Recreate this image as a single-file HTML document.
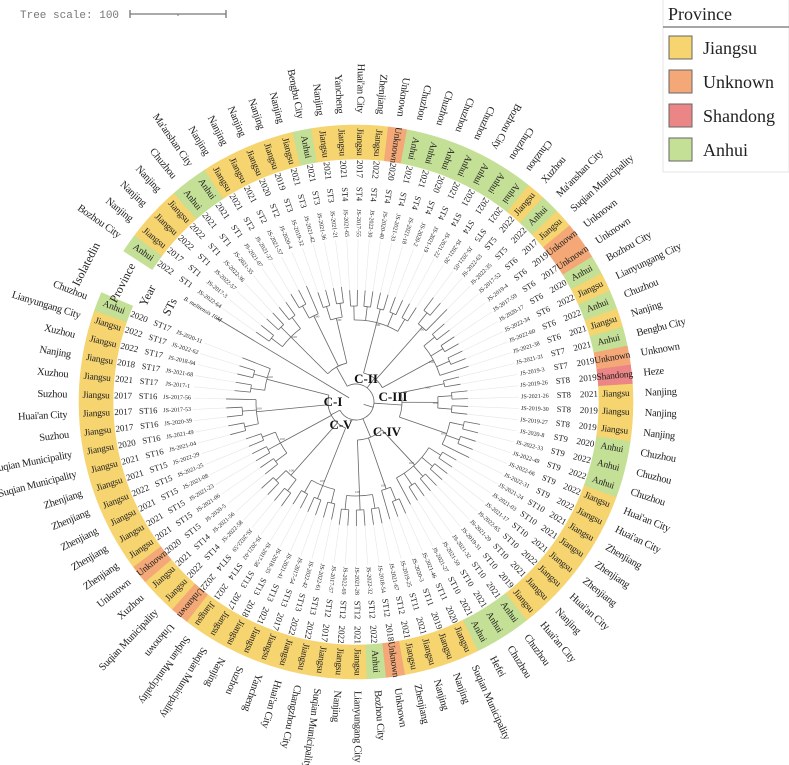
<!DOCTYPE html>
<html><head><meta charset="utf-8"><style>
html,body{margin:0;padding:0;background:#fff;}
svg{display:block;}
text{font-family:"Liberation Serif",serif;}
</style></head><body>
<svg id="chart" width="789" height="765" viewBox="0 0 789 765" xmlns="http://www.w3.org/2000/svg">
<g>
<text x="20" y="18" font-size="11" fill="#777" style="font-family:'Liberation Mono',monospace">Tree scale: 100</text>
<line x1="130" y1="14" x2="226" y2="14" stroke="#777" stroke-width="1.3"/>
<line x1="130" y1="10" x2="130" y2="18" stroke="#777" stroke-width="1.3"/>
<line x1="226" y1="10" x2="226" y2="18" stroke="#777" stroke-width="1.3"/>
<line x1="178" y1="14" x2="178" y2="16" stroke="#777" stroke-width="1"/>
</g>
<g>
<rect x="663" y="-1" width="126" height="173" fill="#fff" stroke="#e4e4e4"/>
<text x="668" y="20" font-size="18" fill="#222">Province</text>
<line x1="663" y1="27" x2="789" y2="27" stroke="#888" stroke-width="1.5"/>
<rect x="669" y="36" width="23" height="23" fill="#f6d470" stroke="#666"/>
<text x="703" y="54" font-size="18" fill="#222">Jiangsu</text>
<rect x="669" y="70" width="23" height="23" fill="#f4a877" stroke="#666"/>
<text x="703" y="88" font-size="18" fill="#222">Unknown</text>
<rect x="669" y="104" width="23" height="23" fill="#ec8585" stroke="#666"/>
<text x="703" y="122" font-size="18" fill="#222">Shandong</text>
<rect x="669" y="138" width="23" height="23" fill="#c4e096" stroke="#666"/>
<text x="703" y="156" font-size="18" fill="#222">Anhui</text>
</g>
<g id="tree"></g>
<g id="ring"></g>
<g id="labels"></g>
<g font-weight="bold" font-size="13" fill="#111">
<text x="333" y="406" text-anchor="middle">C-I</text>
<text x="366" y="383" text-anchor="middle">C-II</text>
<text x="393" y="401" text-anchor="middle">C-III</text>
<text x="387" y="436" text-anchor="middle">C-IV</text>
<text x="341" y="429" text-anchor="middle">C-V</text>
</g>
</svg>
<script>
const provinces=["Anhui","Jiangsu","Jiangsu","Jiangsu","Anhui","Anhui","Jiangsu","Jiangsu","Jiangsu","Jiangsu","Jiangsu","Anhui","Jiangsu","Jiangsu","Jiangsu","Jiangsu","Unknown","Anhui","Anhui","Anhui","Anhui","Anhui","Anhui","Anhui","Jiangsu","Anhui","Jiangsu","Unknown","Unknown","Anhui","Jiangsu","Anhui","Jiangsu","Anhui","Unknown","Shandong","Jiangsu","Jiangsu","Jiangsu","Anhui","Anhui","Anhui","Jiangsu","Jiangsu","Jiangsu","Jiangsu","Jiangsu","Jiangsu","Jiangsu","Jiangsu","Anhui","Anhui","Anhui","Jiangsu","Jiangsu","Jiangsu","Jiangsu","Unknown","Anhui","Jiangsu","Jiangsu","Jiangsu","Jiangsu","Jiangsu","Jiangsu","Jiangsu","Jiangsu","Jiangsu","Jiangsu","Unknown","Jiangsu","Jiangsu","Unknown","Jiangsu","Jiangsu","Jiangsu","Jiangsu","Jiangsu","Jiangsu","Jiangsu","Jiangsu","Jiangsu","Jiangsu","Jiangsu","Jiangsu","Jiangsu","Jiangsu","Anhui"];
const years=[2022,2017,2022,2022,2021,2021,2021,2021,2020,2019,2021,2021,2021,2021,2017,2022,2020,2021,2021,2020,2021,2021,2021,2021,2022,2022,2017,2019,2017,2020,2022,2022,2021,2021,2019,2019,2021,2019,2019,2020,2022,2022,2022,2022,2021,2021,2021,2022,2021,2019,2021,2021,2021,2020,2019,2021,2021,2018,2022,2021,2022,2017,2022,2022,2017,2021,2018,2017,2021,2022,2022,2021,2020,2021,2021,2021,2022,2021,2021,2020,2017,2017,2017,2021,2018,2022,2022,2020];
const sts=[1,1,1,1,1,1,2,2,2,3,3,3,3,4,4,4,4,4,4,4,4,4,4,5,5,5,6,6,6,6,6,6,6,7,7,8,8,8,8,9,9,9,9,9,10,10,10,10,10,10,10,10,10,11,11,11,12,12,12,12,12,12,13,13,13,13,13,13,14,14,14,14,15,15,15,15,15,15,16,16,16,16,16,17,17,17,17,17];
const ids=["JS-2022-64","JS-2017-3","JS-2022-57","JS-2022-36","JS-2021-35","JS-2021-07","JS-2021-37","JS-2021-57","JS-2020-4","JS-2019-32","JS-2021-42","JS-2021-36","JS-2021-21","JS-2021-65","JS-2017-55","JS-2022-30","JS-2020-40","JS-2021-33","JS-2021-18","JS-2020-2","JS-2021-19","JS-2021-22","JS-2021-20","JS-2021-05","JS-2022-63","JS-2022-35","JS-2017-52","JS-2019-4","JS-2017-59","JS-2020-17","JS-2022-34","JS-2022-60","JS-2021-38","JS-2021-31","JS-2019-3","JS-2019-26","JS-2021-26","JS-2019-30","JS-2019-27","JS-2020-8","JS-2022-33","JS-2022-49","JS-2022-66","JS-2022-31","JS-2021-24","JS-2021-03","JS-2021-17","JS-2022-65","JS-2021-29","JS-2019-31","JS-2021-32","JS-2021-59","JS-2021-27","JS-2021-46","JS-2020-3","JS-2019-25","JS-2021-67","JS-2018-54","JS-2022-32","JS-2021-28","JS-2022-69","JS-2017-57","JS-2022-61","JS-2022-42","JS-2017-54","JS-2021-41","JS-2018-35","JS-2017-58","JS-2021-02","JS-2022-59","JS-2022-58","JS-2021-56","JS-2020-5","JS-2021-06","JS-2021-23","JS-2021-08","JS-2021-25","JS-2022-29","JS-2021-04","JS-2021-49","JS-2020-39","JS-2017-53","JS-2017-56","JS-2017-1","JS-2021-68","JS-2018-04","JS-2022-62","JS-2020-11"];
const cities=["Bozhou City","Nanjing","Nanjing","Nanjing","Chuzhou","Ma'anshan City","Nanjing","Nanjing","Nanjing","Nanjing","Nanjing","Bengbu City","Nanjing","Yancheng","Huai'an City","Zhenjiang","Unknown","Chuzhou","Chuzhou","Chuzhou","Chuzhou","Bozhou City","Chuzhou","Chuzhou","Xuzhou","Ma'anshan City","Suqian Municipality","Unknown","Unknown","Bozhou City","Lianyungang City","Chuzhou","Nanjing","Bengbu City","Unknown","Heze","Nanjing","Nanjing","Nanjing","Chuzhou","Chuzhou","Chuzhou","Huai'an City","Huai'an City","Zhenjiang","Zhenjiang","Zhenjiang","Huai'an City","Nanjing","Huai'an City","Chuzhou","Chuzhou","Hefei","Suqian Municipality","Nanjing","Nanjing","Zhenjiang","Unknown","Bozhou City","Lianyungang City","Nanjing","Suqian Municipality","Changzhou City","Huai'an City","Yancheng","Suzhou","Nanjing","Suqian Municipality","Suqian Municipality","Unknown","Suqian Municipality","Xuzhou","Unknown","Zhenjiang","Zhenjiang","Zhenjiang","Zhenjiang","Zhenjiang","Suqian Municipality","Suqian Municipality","Suzhou","Huai'an City","Suzhou","Xuzhou","Nanjing","Xuzhou","Lianyungang City","Chuzhou"];
const stBranch=[92,96,86,82,100,88,76,82,96,86,92,94,90,98,86,100,92];
const cladeOfSt=[0,0,0,1,1,1,2,2,2,3,3,3,4,4,4,4,4];
const cladeBranch=[40,30,46,38,28];
const provColors={"Jiangsu":"#f6d470","Unknown":"#f4a877","Shandong":"#ec8585","Anhui":"#c4e096"};

const NS="http://www.w3.org/2000/svg";
const cx=356, cy=402, a0=305, step=3.98;
const rIn=243, rOut=277;
function ang(i){return a0+i*step;}
function pt(r,t){const a=t*Math.PI/180;return [cx+r*Math.sin(a), cy-r*Math.cos(a)];}
function mk(tag,attrs,parent){const e=document.createElementNS(NS,tag);for(const k in attrs)e.setAttribute(k,attrs[k]);parent.appendChild(e);return e;}
function norm(t){return ((t%360)+360)%360;}
function outward(t){t=norm(t);return t>=40&&t<220;}
function rot(t){t=norm(t);return outward(t)?t-90:t+90;}
function arcPath(r,t1,t2){const p1=pt(r,t1),p2=pt(r,t2);const large=(t2-t1)>180?1:0;return `M${p1[0]},${p1[1]} A${r},${r} 0 ${large} 1 ${p2[0]},${p2[1]}`;}
function radial(r1,r2,t){const p1=pt(r1,t),p2=pt(r2,t);return `M${p1[0]},${p1[1]} L${p2[0]},${p2[1]}`;}

const ring=document.getElementById('ring');
const labels=document.getElementById('labels');
const tree=document.getElementById('tree');

function radText(txt,r,t,size,anchorMode,name,extra){
  const p=pt(r,t);
  let anchor='middle';
  if(anchorMode==='edge') anchor=outward(t)?'start':'end';
  const e=mk('text',{x:p[0],y:p[1],'font-size':size,'text-anchor':anchor,'dominant-baseline':'middle',fill:'#222',transform:`rotate(${rot(t)} ${p[0]} ${p[1]})`},labels);
  if(extra) for(const k in extra) e.setAttribute(k,extra[k]);
  e.textContent=txt;
  
  
  return e;
}

for(let i=0;i<provinces.length;i++){
  const t=ang(i), t1=t-step/2, t2=t+step/2;
  const a=pt(rOut,t1),b=pt(rOut,t2),c=pt(rIn,t2),d=pt(rIn,t1);
  const seg=mk('path',{d:`M${a[0]},${a[1]} A${rOut},${rOut} 0 0 1 ${b[0]},${b[1]} L${c[0]},${c[1]} A${rIn},${rIn} 0 0 0 ${d[0]},${d[1]} Z`,fill:provColors[provinces[i]],stroke:provColors[provinces[i]],'stroke-width':0.6},ring);
  
  
  radText(provinces[i],(rIn+rOut)/2,t,9.5,'mid','province-text',{'letter-spacing':'-0.2'});
  radText(String(years[i]),233,t,9,'mid','year-label');
  radText('ST'+sts[i],208,t,8.5,'mid','st-label');
  radText(ids[i],179,t,6,'mid','isolate-id');
  radText(cities[i],289,t,10.5,'edge','city-label',{'letter-spacing':'-0.3'});
}
const tOut=a0-step, tHead=a0-2*step;
radText('B. melitensis 16M',179,tOut,6,'mid','outgroup-label',{'font-style':'italic'});
function headText(txt,r,name){const p=pt(r,tHead);const e=mk('text',{x:p[0],y:p[1],'font-size':12,'text-anchor':'middle','dominant-baseline':'middle',fill:'#222',transform:`rotate(${tHead} ${p[0]} ${p[1]})`},labels);e.textContent=txt;}
headText('Isolatedin',302,'header-isolatedin');
headText('Province',261,'header-province');
headText('Year',233,'header-year');
headText('STs',208,'header-sts');

const lineAttrs={fill:'none',stroke:'#666','stroke-width':0.8};
function br(d,name){const e=mk('path',Object.assign({d:d},lineAttrs),tree);return e;}
const rootR=18;
const stAngles={};
for(let s=1;s<=17;s++){
  const idx=[];for(let i=0;i<sts.length;i++) if(sts[i]===s) idx.push(i);
  if(!idx.length) continue;
  const sR=stBranch[s-1];
  const pairR=sR+14, tipR=sR+30;
  const pairAngles=[];
  for(let k=0;k<idx.length;k+=2){
    const g=idx.slice(k,k+2);
    const ts=g.map(ang);
    g.forEach(i=>{
      br(radial(pairR,tipR,ang(i)),'leaf-branch');
      const f=mk('path',{d:radial(tipR,163,ang(i)),stroke:'#e6e6e6','stroke-width':0.6,fill:'none'},tree);
      
      
    });
    if(ts.length>1) br(arcPath(pairR,ts[0],ts[1]),'node-arc');
    const m=(ts[0]+ts[ts.length-1])/2;
    br(radial(sR,pairR,m),'internal-branch');
    pairAngles.push(m);
  }
  const m1=pairAngles[0], m2=pairAngles[pairAngles.length-1];
  if(pairAngles.length>1) br(arcPath(sR,m1,m2),'st-node-arc');
  stAngles[s]=(m1+m2)/2;
  const bp=pt(sR-3,stAngles[s]+1.2);
  const bt=mk('text',{x:bp[0],y:bp[1],'font-size':3.5,fill:'#555','text-anchor':'middle'},tree);bt.textContent='100';
  
  
}
const cladeAngles=[];
for(let c=0;c<5;c++){
  const list=[];for(let s=1;s<=17;s++) if(cladeOfSt[s-1]===c && stAngles[s]!==undefined) list.push(s);
  const cR=cladeBranch[c];
  list.forEach(s=>br(radial(cR,stBranch[s-1],stAngles[s]),'st-branch'));
  const aMin=stAngles[list[0]], aMax=stAngles[list[list.length-1]];
  br(arcPath(cR,aMin,aMax),'clade-arc');
  const m=(aMin+aMax)/2;
  br(radial(rootR,cR,m),'clade-branch');
  cladeAngles.push(m);
}
br(arcPath(rootR,cladeAngles[0],cladeAngles[4]),'root-arc');
br(radial(8,rootR,(cladeAngles[0]+cladeAngles[4])/2),'root-branch');
br(radial(8,163,tOut),'outgroup-branch');
</script>
</body></html>
